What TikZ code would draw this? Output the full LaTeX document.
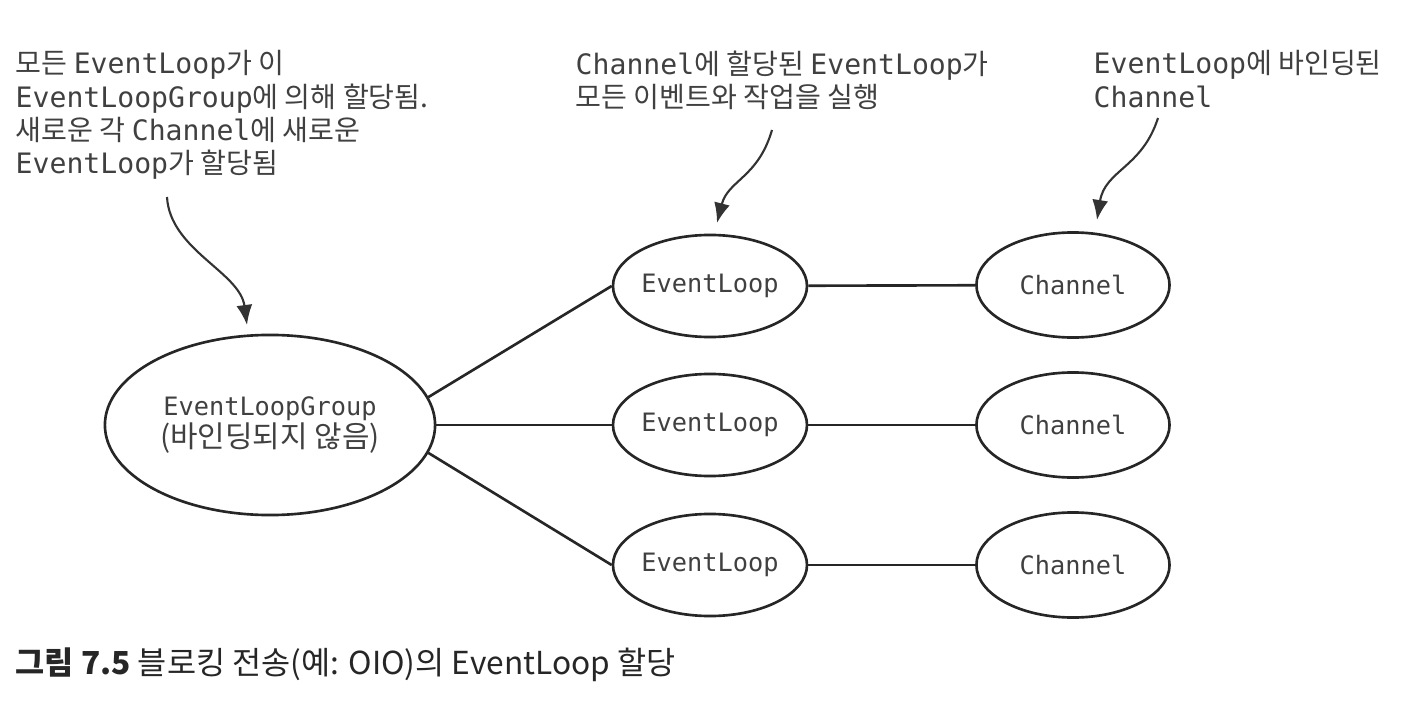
\documentclass[tikz,border=0pt]{standalone}
\usepackage{fontspec}
\setmainfont{Noto Sans CJK KR}
\setmonofont{DejaVu Sans Mono}
\usetikzlibrary{shapes.geometric,arrows.meta}
\newcommand{\cw}[1]{{\ttfamily #1}}

\begin{document}
\begin{tikzpicture}[x=0.01cm,y=-0.01cm,
    every node/.style={text=black!75},
    blob/.style={ellipse, draw=black!85, line width=0.75pt, inner sep=0pt, align=center, font=\fontsize{7.2}{9}\selectfont},
    note/.style={anchor=north west, align=left, inner sep=0pt, font=\fontsize{8}{9.4}\selectfont},
    link/.style={draw=black!85, line width=0.75pt},
    pointer/.style={draw=black!80, line width=0.6pt, -{Latex[length=2mm,width=1.6mm]}}]
    \useasboundingbox (0,0) rectangle (1426,712);

    \node (grp)[blob, minimum width=3.3cm, minimum height=1.8cm] at (270,425) {\cw{EventLoopGroup}\\{\fontsize{8.5}{9}\selectfont(바인딩되지 않음)}};

    \node (el1)[blob, minimum width=1.9cm, minimum height=1.02cm] at (710,286) {\cw{EventLoop}};
    \node (el2)[blob, minimum width=1.9cm, minimum height=1.02cm] at (710,425) {\cw{EventLoop}};
    \node (el3)[blob, minimum width=1.9cm, minimum height=1.02cm] at (710,565) {\cw{EventLoop}};

    \node (ch1)[blob, minimum width=1.93cm, minimum height=1.05cm] at (1073,285) {\cw{Channel}};
    \node (ch2)[blob, minimum width=1.93cm, minimum height=1.05cm] at (1073,425) {\cw{Channel}};
    \node (ch3)[blob, minimum width=1.93cm, minimum height=1.05cm] at (1073,565) {\cw{Channel}};

    \node (n1)[note] at (15,50) {모든 \cw{EventLoop}가 이\\\cw{EventLoopGroup}에 의해 할당됨.\\새로운 각 \cw{Channel}에 새로운\\\cw{EventLoop}가 할당됨};
    \node (n2)[note] at (575,50) {\cw{Channel}에 할당된 \cw{EventLoop}가\\모든 이벤트와 작업을 실행};
    \node (n3)[note] at (1093,50) {\cw{EventLoop}에 바인딩된\\\cw{Channel}};

    \node (cap)[anchor=west, inner sep=0pt, text=black!85, font=\fontsize{9}{10}\selectfont] at (15,665) {{\bfseries 그림 7.5} 블로킹 전송(예: OIO)의 EventLoop 할당};

    \coordinate (p1) at (167,197);
    \coordinate (q1) at (247,325);
    \coordinate (p2) at (772,130);
    \coordinate (q2) at (717,223);
    \coordinate (p3) at (1158,118);
    \coordinate (q3) at (1097,220);

    \draw[pointer] (p1) .. controls (170,250) and (240,272) .. (q1);
    \draw[pointer] (p2) .. controls (758,178) and (728,180) .. (q2);
    \draw[pointer] (p3) .. controls (1142,168) and (1105,170) .. (q3);

    \draw[link] (grp.10) -- (el1.west);
    \draw[link] (grp.east) -- (el2.west);
    \draw[link] (grp.-10) -- (el3.west);
    \foreach \i in {1,2,3}
      \draw[link] (el\i) -- (ch\i);
  \end{tikzpicture}
\end{document}
